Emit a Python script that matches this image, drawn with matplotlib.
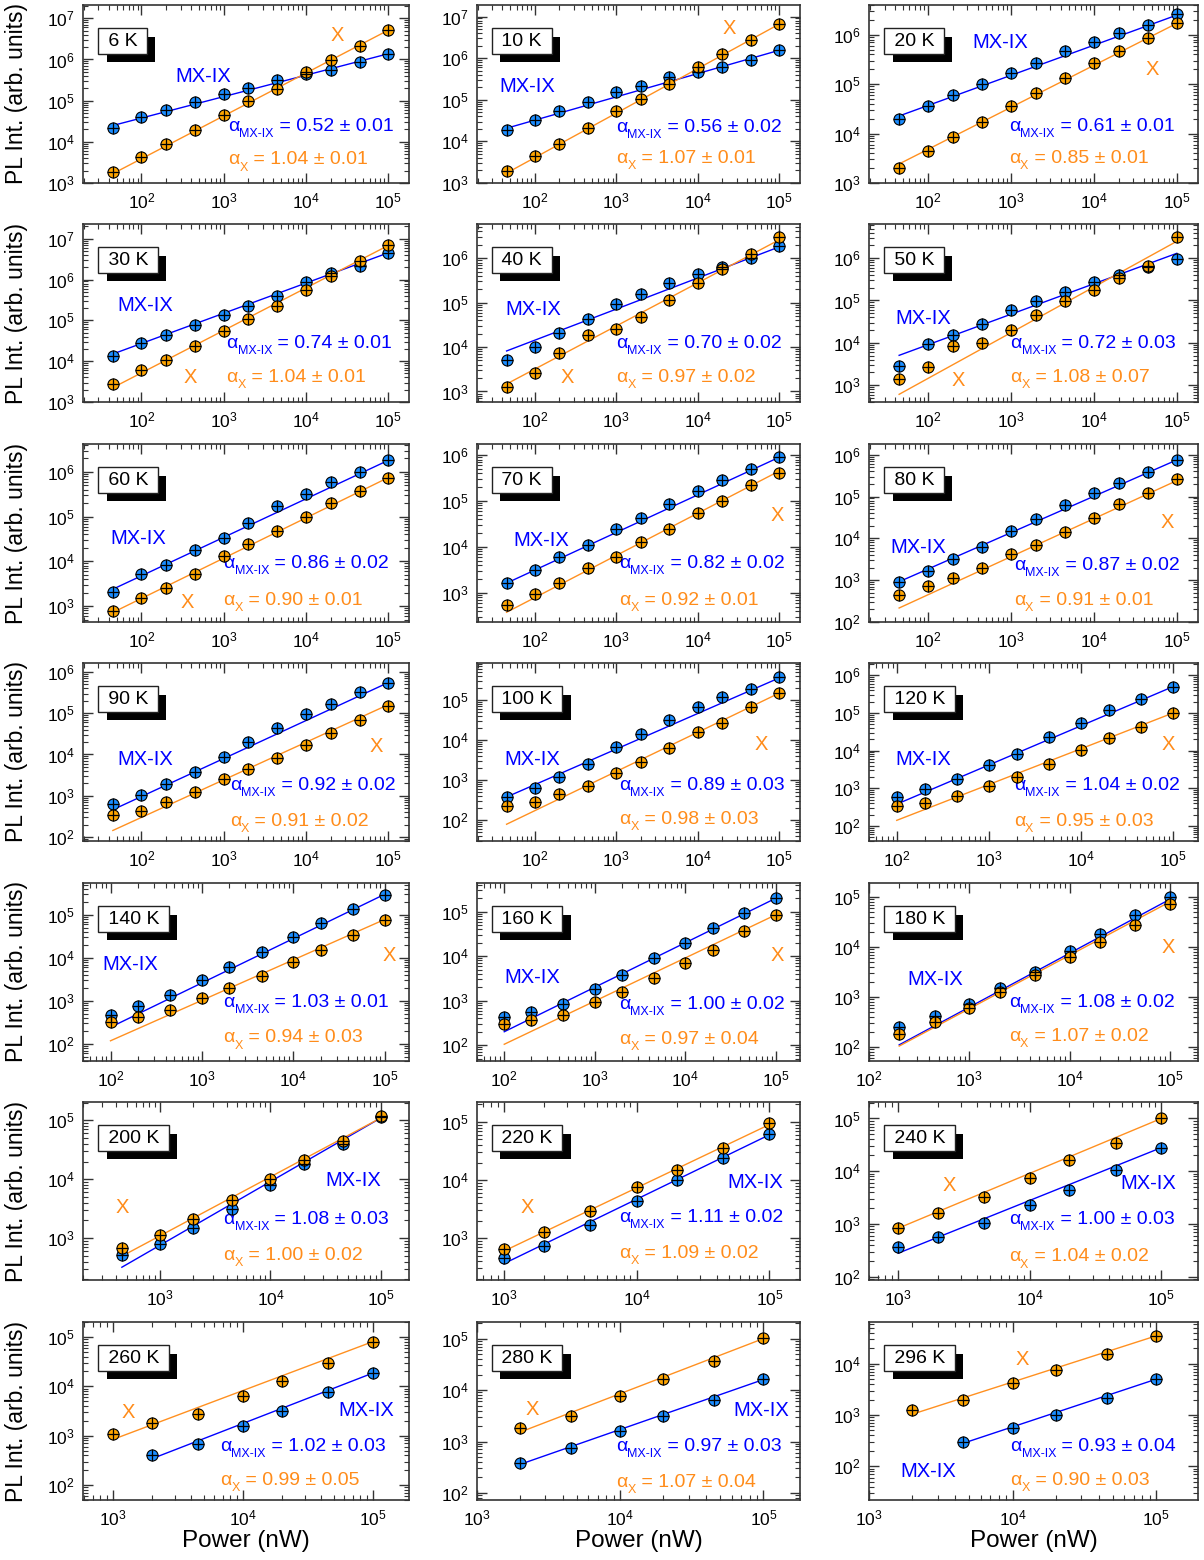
import matplotlib
matplotlib.use('Agg')
import matplotlib.pyplot as plt
import matplotlib.patheffects as pe
import numpy as np

plt.rcParams['font.family'] = ['Liberation Sans', 'DejaVu Sans']
plt.rcParams['mathtext.fontset'] = 'custom'
plt.rcParams['mathtext.rm'] = 'Liberation Sans'
plt.rcParams['mathtext.it'] = 'Liberation Sans:italic'
plt.rcParams['mathtext.bf'] = 'Liberation Sans:bold'

# excitation powers (nW); each series ends at the highest power
POWER = [45, 100, 200, 450, 1e3, 2e3, 4.5e3, 1e4, 2e4, 4.5e4, 1e5]

temps = ['6 K', '10 K', '20 K', '30 K', '40 K', '50 K', '60 K', '70 K', '80 K',
         '90 K', '100 K', '120 K', '140 K', '160 K', '180 K', '200 K', '220 K',
         '240 K', '260 K', '280 K', '296 K']

# MX-IX intensities
mx_6 = [2.2e4, 3.9e4, 5.9e4, 9.3e4, 1.45e5, 2.05e5, 3.2e5, 4.5e5, 5.7e5, 8.6e5, 1.37e6]
mx_10 = [1.9e4, 3.3e4, 5.3e4, 8.8e4, 1.5e5, 2.2e5, 3.6e5, 4.7e5, 6.3e5, 9.3e5, 1.54e6]
mx_20 = [2.0e4, 3.7e4, 6.0e4, 1.0e5, 1.7e5, 2.7e5, 4.6e5, 7.3e5, 1.1e6, 1.6e6, 2.6e6]
mx_30 = [1.35e4, 2.8e4, 4.3e4, 7.8e4, 1.35e5, 2.3e5, 4.0e5, 8.6e5, 1.45e6, 2.2e6, 4.5e6]
mx_40 = [5.0e3, 9.8e3, 2.1e4, 4.3e4, 9.1e4, 1.6e5, 2.7e5, 4.4e5, 6.5e5, 1.0e6, 1.9e6]
mx_50 = [2.8e3, 9.5e3, 1.55e4, 2.8e4, 5.8e4, 9.9e4, 1.55e5, 2.7e5, 4.1e5, 6.3e5, 9.5e5]
mx_60 = [2.1e3, 5.2e3, 8.3e3, 1.8e4, 3.4e4, 7.1e4, 1.7e5, 3.2e5, 5.9e5, 1.0e6, 1.8e6]
mx_70 = [1.66e3, 3.2e3, 5.9e3, 1.1e4, 2.4e4, 4.3e4, 8.4e4, 1.65e5, 2.9e5, 5.1e5, 8.9e5]
mx_80 = [8.8e2, 1.7e3, 3.2e3, 6.3e3, 1.5e4, 2.9e4, 6.1e4, 1.2e5, 2.1e5, 3.9e5, 7.5e5]
mx_90 = [6.3e2, 1.05e3, 1.9e3, 3.8e3, 8.8e3, 2.0e4, 4.3e4, 9.5e4, 1.7e5, 3.3e5, 5.5e5]
mx_100 = [3.8e2, 6.2e2, 1.2e3, 2.5e3, 6.6e3, 1.4e4, 3.2e4, 6.6e4, 1.2e5, 1.95e5, 3.7e5]
mx_120 = [6.0e2, 9.4e2, 1.8e3, 4.2e3, 8.1e3, 2.3e4, 5.5e4, 1.2e5, 2.4e5, 5.0e5]
mx_140 = [4.8e2, 7.4e2, 1.4e3, 3.1e3, 6.1e3, 1.4e4, 3.1e4, 6.6e4, 1.35e5, 2.9e5]
mx_160 = [4.3e2, 5.6e2, 8.4e2, 1.8e3, 3.8e3, 9.0e3, 2.0e4, 4.2e4, 9.3e4, 2.0e5]
mx_180 = [2.5e2, 4.1e2, 7.1e2, 1.5e3, 3.2e3, 8.2e3, 1.8e4, 4.3e4, 9.8e4]
mx_200 = [5.2e2, 8.0e2, 1.5e3, 3.1e3, 7.9e3, 1.8e4, 4.0e4, 1.14e5]
mx_220 = [4.5e2, 7.4e2, 1.7e3, 4.3e3, 1.0e4, 2.4e4, 6.3e4]
mx_240 = [3.7e2, 5.7e2, 1.05e3, 2.3e3, 4.5e3, 1.05e4, 2.8e4]
mx_260 = [4.0e2, 6.9e2, 1.6e3, 3.2e3, 7.7e3, 1.9e4]
mx_280 = [3.9e2, 7.4e2, 1.57e3, 3.1e3, 6.5e3, 1.67e4]
mx_296 = [3.0e2, 5.7e2, 1.0e3, 2.1e3, 5.0e3]

# X intensities
x_6 = [1.9e3, 4.4e3, 8.7e3, 1.94e4, 4.5e4, 9.6e4, 1.96e5, 5.0e5, 9.6e5, 2.1e6, 5.1e6]
x_10 = [1.9e3, 4.4e3, 8.9e3, 2.1e4, 5.3e4, 1.07e5, 2.4e5, 6.3e5, 1.28e6, 2.8e6, 6.6e6]
x_20 = [2.0e3, 4.4e3, 8.5e3, 1.7e4, 3.6e4, 6.7e4, 1.35e5, 2.7e5, 4.7e5, 8.5e5, 1.7e6]
x_30 = [2.7e3, 6.0e3, 1.1e4, 2.4e4, 5.6e4, 1.1e5, 2.3e5, 5.5e5, 1.2e6, 2.8e6, 7.2e6]
x_40 = [1.25e3, 2.6e3, 7.5e3, 1.9e4, 2.6e4, 4.8e4, 1.15e5, 2.8e5, 5.6e5, 1.25e6, 3.0e6]
x_50 = [1.4e3, 2.7e3, 8.5e3, 9.8e3, 2.0e4, 4.6e4, 9.5e4, 1.8e5, 3.4e5, 6.6e5, 3.2e6]
x_60 = [7.6e2, 1.5e3, 2.5e3, 5.1e3, 1.3e4, 2.5e4, 4.8e4, 1.0e5, 2.0e5, 3.7e5, 7.4e5]
x_70 = [5.4e2, 9.6e2, 1.66e3, 3.4e3, 5.9e3, 1.3e4, 2.5e4, 5.4e4, 1.0e5, 2.2e5, 4.1e5]
x_80 = [4.5e2, 7.1e2, 1.1e3, 2.0e3, 4.2e3, 7.1e3, 1.4e4, 3.1e4, 6.5e4, 1.2e5, 2.6e5]
x_90 = [3.4e2, 4.3e2, 7.2e2, 1.25e3, 2.5e3, 4.4e3, 8.3e3, 1.7e4, 3.4e4, 6.8e4, 1.5e5]
x_100 = [2.2e2, 2.9e2, 4.6e2, 7.1e2, 1.5e3, 2.9e3, 6.2e3, 1.6e4, 2.7e4, 6.8e4, 1.5e5]
x_120 = [3.3e2, 4.0e2, 6.2e2, 1.15e3, 2.0e3, 4.4e3, 1.04e4, 2.1e4, 4.3e4, 1.02e5]
x_140 = [3.3e2, 4.3e2, 6.2e2, 1.15e3, 2.0e3, 3.8e3, 8.2e3, 1.5e4, 3.4e4, 7.6e4]
x_160 = [3.0e2, 3.6e2, 4.7e2, 9.5e2, 1.6e3, 3.2e3, 6.9e3, 1.4e4, 3.6e4, 8.5e4]
x_180 = [1.8e2, 3.2e2, 5.9e2, 1.26e3, 2.7e3, 6.3e3, 1.26e4, 2.7e4, 7.1e4]
x_200 = [6.7e2, 1.14e3, 2.1e3, 4.4e3, 1.03e4, 2.1e4, 4.5e4, 1.2e5]
x_220 = [6.5e2, 1.25e3, 2.9e3, 7.5e3, 1.5e4, 3.6e4, 9.6e4]
x_240 = [8.3e2, 1.6e3, 3.3e3, 7.6e3, 1.6e4, 3.4e4, 1.0e5]
x_260 = [1.07e3, 1.8e3, 2.8e3, 6.3e3, 1.3e4, 3.0e4, 8.0e4]
x_280 = [1.8e3, 3.2e3, 7.5e3, 1.67e4, 3.7e4, 1.02e5]
x_296 = [1.24e3, 2.0e3, 4.2e3, 7.4e3, 1.57e4, 3.4e4]

mx_data = [mx_6, mx_10, mx_20, mx_30, mx_40, mx_50, mx_60, mx_70, mx_80, mx_90, mx_100,
           mx_120, mx_140, mx_160, mx_180, mx_200, mx_220, mx_240, mx_260, mx_280, mx_296]
x_data = [x_6, x_10, x_20, x_30, x_40, x_50, x_60, x_70, x_80, x_90, x_100,
          x_120, x_140, x_160, x_180, x_200, x_220, x_240, x_260, x_280, x_296]

# power-law fits: exponent, error, fitted value at 1e5 nW
alpha_mx = [0.52, 0.56, 0.61, 0.74, 0.70, 0.72, 0.86, 0.82, 0.87, 0.92, 0.89,
            1.04, 1.03, 1.00, 1.08, 1.08, 1.11, 1.00, 1.02, 0.97, 0.93]
err_mx = [0.01, 0.02, 0.01, 0.01, 0.02, 0.03, 0.02, 0.02, 0.02, 0.02, 0.03,
          0.02, 0.01, 0.02, 0.02, 0.03, 0.02, 0.03, 0.03, 0.03, 0.04]
alpha_x = [1.04, 1.07, 0.85, 1.04, 0.97, 1.08, 0.90, 0.92, 0.91, 0.91, 0.98,
           0.95, 0.94, 0.97, 1.07, 1.00, 1.09, 1.04, 0.99, 1.07, 0.90]
err_x = [0.01, 0.01, 0.01, 0.01, 0.02, 0.07, 0.01, 0.01, 0.01, 0.02, 0.03,
         0.03, 0.03, 0.04, 0.02, 0.02, 0.02, 0.02, 0.05, 0.04, 0.03]
fit_mx_end = [1.37e6, 1.55e6, 2.5e6, 4.5e6, 1.8e6, 1.3e6, 1.8e6, 9e5, 7.5e5, 5.5e5, 3.6e5,
              5e5, 3.0e5, 2.0e5, 9e4, 1.1e5, 6e4, 2.8e4, 1.85e4, 1.6e4, 5e3]
fit_x_end = [5.1e6, 6.6e6, 1.7e6, 6.8e6, 2.6e6, 2.5e6, 7.4e5, 4.5e5, 2.4e5, 1.6e5, 1.5e5,
             1.0e5, 7.8e4, 8.5e4, 8e4, 1.1e5, 9e4, 1.0e5, 8e4, 1.0e5, 3.5e4]

# axis ranges
xlims = [(19.5, 1.8e5)] * 11 + [(50, 1.85e5)] * 3 + [(100, 1.9e5), (200, 1.8e5), (630, 1.7e5),
                                                     (600, 1.9e5), (590, 1.9e5), (1e3, 1.8e5), (1e3, 1.95e5)]
ylims = [(1e3, 2.1e7), (1e3, 1.9e7), (1e3, 4e6), (1e3, 2.3e7), (580, 5.9e6), (400, 6.4e6),
         (440, 4.2e6), (230, 1.75e6), (100, 1.8e6), (80, 1.65e6), (30, 8.5e5), (40, 2.1e6),
         (40, 5.5e5), (44, 4.4e5), (52, 1.9e5), (195, 2.05e5), (190, 2.2e5), (87, 2.05e5),
         (50, 2e5), (73, 2.1e5), (22, 6.5e4)]

# label positions (axes fraction)
mx_lab_pos = [(0.37, 0.60), (0.155, 0.54), (0.40, 0.79), (0.19, 0.54), (0.175, 0.52), (0.165, 0.47),
              (0.17, 0.47), (0.20, 0.46), (0.15, 0.42), (0.19, 0.46), (0.17, 0.46), (0.165, 0.46),
              (0.145, 0.54), (0.17, 0.47), (0.20, 0.46), (0.83, 0.56), (0.86, 0.55), (0.85, 0.54),
              (0.87, 0.50), (0.88, 0.50), (0.18, 0.16)]
x_lab_pos = [(0.78, 0.83), (0.78, 0.87), (0.86, 0.64), (0.33, 0.14), (0.28, 0.14), (0.27, 0.12),
             (0.32, 0.11), (0.93, 0.60), (0.905, 0.56), (0.90, 0.53), (0.88, 0.54), (0.91, 0.54),
             (0.94, 0.59), (0.93, 0.59), (0.91, 0.64), (0.12, 0.41), (0.155, 0.41), (0.245, 0.53),
             (0.14, 0.49), (0.17, 0.51), (0.465, 0.79)]
alpha_x0 = [0.445, 0.43, 0.425, 0.44, 0.43, 0.43, 0.43, 0.44, 0.44, 0.45, 0.44,
            0.44, 0.43, 0.44, 0.425, 0.43, 0.44, 0.425, 0.42, 0.43, 0.43]
alpha_y = [(0.32, 0.13), (0.31, 0.14), (0.32, 0.14), (0.33, 0.14), (0.33, 0.14), (0.33, 0.14),
           (0.33, 0.12), (0.33, 0.12), (0.32, 0.12), (0.31, 0.11), (0.31, 0.12), (0.31, 0.11),
           (0.33, 0.13), (0.32, 0.12), (0.33, 0.14), (0.34, 0.14), (0.35, 0.15), (0.34, 0.13),
           (0.30, 0.11), (0.30, 0.10), (0.30, 0.11)]

BLUE_FILL = '#1a8cff'
ORANGE_FILL = '#ffa500'
BLUE = '#0000ff'
ORANGE = '#ff8c1a'
ORANGE_LINE = '#ff9020'
FRAME = '#333333'

FIG_W, FIG_H = 1204, 1560
col_left = [83, 477, 869]
col_w = [326, 323, 329]
row_top = [5, 224, 444, 663, 883, 1102, 1322]
AX_H = 178


def alpha_label(ax, x, y, sub, val, err, color):
    t1 = ax.text(x, y, '\u03b1', transform=ax.transAxes, color=color,
                 fontsize=14, ha='left', va='center')
    t2 = ax.annotate(sub, xy=(1, 0.05), xycoords=t1, color=color,
                     fontsize=9, ha='left', va='center')
    ax.annotate(f' = {val:.2f} \u00b1 {err:.2f}', xy=(1, 0.5), xycoords=(t2, t1),
                color=color, fontsize=14, ha='left', va='center')


def temp_label(ax, text):
    t = ax.text(0.06, 0.845, ' ' + text + ' ', transform=ax.transAxes, fontsize=14,
                va='top', ha='left', color='black', zorder=7,
                bbox=dict(boxstyle='square,pad=0.22', lw=1, fc='white', ec='#222222'))
    # drop shadow of the box, offset down-right
    t.get_bbox_patch().set_path_effects([
        pe.SimplePatchShadow(offset=(6, -6), shadow_rgbFace='black', alpha=1.0),
        pe.Normal()])


def draw_series(ax, vals, fill):
    p = POWER[-len(vals):]
    ax.plot(p, vals, 'o', ms=8, mfc=fill, mec='black', mew=0.8, zorder=4)
    ax.plot(p, vals, '+', ms=8, mec='black', mew=0.9, zorder=5)


def draw_fit(ax, start, alpha, end_val, color):
    pf = np.array([start, POWER[-1]])
    ax.plot(pf, end_val * (pf / POWER[-1]) ** alpha, color=color, lw=1, zorder=3)


fig = plt.figure(figsize=(FIG_W / 100, FIG_H / 100), dpi=100)

for i, temp in enumerate(temps):
    r, c = divmod(i, 3)
    ax = fig.add_axes([col_left[c] / FIG_W, (FIG_H - row_top[r] - AX_H) / FIG_H,
                       col_w[c] / FIG_W, AX_H / FIG_H])
    ax.set_xscale('log')
    ax.set_yscale('log')

    mx, xx = mx_data[i], x_data[i]
    draw_fit(ax, POWER[-len(mx)], alpha_mx[i], fit_mx_end[i], BLUE)
    draw_fit(ax, POWER[-len(xx)], alpha_x[i], fit_x_end[i], ORANGE_LINE)
    draw_series(ax, mx, BLUE_FILL)
    draw_series(ax, xx, ORANGE_FILL)

    ax.set_xlim(*xlims[i])
    ax.set_ylim(*ylims[i])

    ax.text(*mx_lab_pos[i], 'MX-IX', transform=ax.transAxes, color=BLUE, fontsize=14.5,
            ha='center', va='center')
    ax.text(*x_lab_pos[i], 'X', transform=ax.transAxes, color=ORANGE, fontsize=14.5,
            ha='center', va='center')
    alpha_label(ax, alpha_x0[i], alpha_y[i][0], 'MX-IX', alpha_mx[i], err_mx[i], BLUE)
    alpha_label(ax, alpha_x0[i], alpha_y[i][1], 'X', alpha_x[i], err_x[i], ORANGE)
    temp_label(ax, temp)

    for sp in ax.spines.values():
        sp.set_color(FRAME)
        sp.set_linewidth(1.2)
    ax.tick_params(which='both', direction='in', top=True, right=True, colors=FRAME,
                   labelcolor='black', labelsize=12.5)
    ax.tick_params(which='major', length=7, width=1, pad=6)
    ax.tick_params(which='minor', length=3.5, width=0.8)

    if c == 0:
        ax.set_ylabel('PL Int. (arb. units)', fontsize=16.5)
        ax.yaxis.set_label_coords(-0.17, 0.5)
    if r == 6:
        ax.set_xlabel('Power (nW)', fontsize=17.5)
        ax.xaxis.set_label_coords(0.5, -0.17)

fig.savefig('out.png', dpi=100, facecolor='white')
